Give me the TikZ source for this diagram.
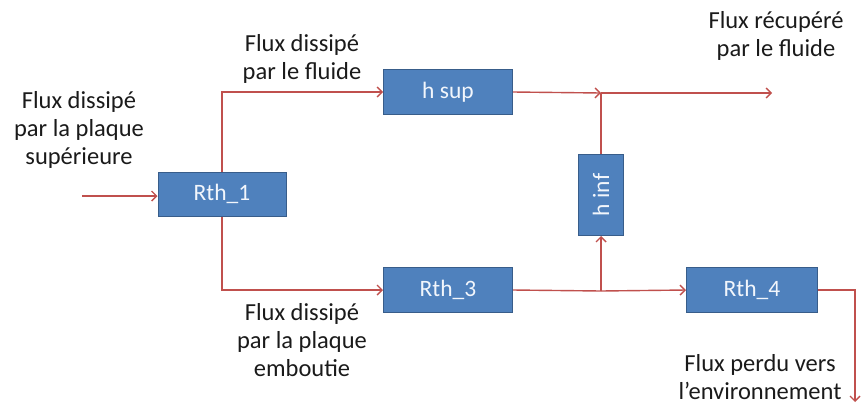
\documentclass[tikz,border=0pt]{standalone}
\usepackage{fontspec}
\setmainfont{Carlito}
\usetikzlibrary{arrows.meta}
\definecolor{boxfill}{HTML}{4F81BD}
\definecolor{boxline}{HTML}{385D8A}
\definecolor{flow}{HTML}{C0504D}
\definecolor{txt}{HTML}{1A1A1A}
\definecolor{btxt}{HTML}{F2F6FC}
\begin{document}
\begin{tikzpicture}[x=1pt,y=-1pt,
  blk/.style={draw=boxline,line width=1pt,fill=boxfill,text=btxt,inner sep=0pt,
    font=\fontsize{23.5}{26}\selectfont},
  lbl/.style={align=center,text=txt,font=\fontsize{24.5}{28}\selectfont},
  flowline/.style={draw=flow,line width=1.4pt},
  arr/.style={flowline,-{Straight Barb[length=5pt,width=10pt,line width=1.4pt]}}]
\useasboundingbox (0,0) rectangle (861,405);
% blocks
\node[blk,minimum width=128pt,minimum height=44pt] (r1) at (222,194) {Rth\_1};
\node[blk,minimum width=129pt,minimum height=45pt] (hs) at (448,92) {h sup};
\node[blk,minimum width=129pt,minimum height=45pt] (r3) at (448,290) {Rth\_3};
\node[blk,minimum width=131pt,minimum height=45pt] (r4) at (752,290) {Rth\_4};
\node[blk,minimum width=81pt,minimum height=45pt,rotate=90] (hi) at (601,195) {h inf};
% coordinates
\coordinate (in) at (82,196);
\coordinate (jt) at (601,93);
\coordinate (jb) at (601,291);
\coordinate (out) at (772,93);
\coordinate (corner) at (855,291);
\coordinate (down) at (855,402);
% connectors
\draw[arr] (in) -- (in -| r1.west);
\draw[arr] (r1.north) |- (hs.west);
\draw[arr] (r1.south) |- (r3.west);
\draw[arr] (hs.east) -- (jt);
\draw[arr] (jt) -- (out);
\draw[flowline] (hi.east) -- (jt);
\draw[flowline] (r3.east) -- (jb);
\draw[arr] (jb) -- (hi.west);
\draw[arr] (jb) -- (r4.west);
\draw[arr] (r4.east) -| (corner) -- (down);
% labels
\node[lbl] (l1) at (79,130) {Flux dissipé\\par la plaque\\supérieure};
\node[lbl] (l2) at (302,59) {Flux dissipé\\par le fluide};
\node[lbl] (l3) at (776,36) {Flux récupéré\\par le fluide};
\node[lbl] (l4) at (302,340) {Flux dissipé\\par la plaque\\emboutie};
\node[lbl] (l5) at (760,377) {Flux perdu vers\\l’environnement};
\end{tikzpicture}
\end{document}
